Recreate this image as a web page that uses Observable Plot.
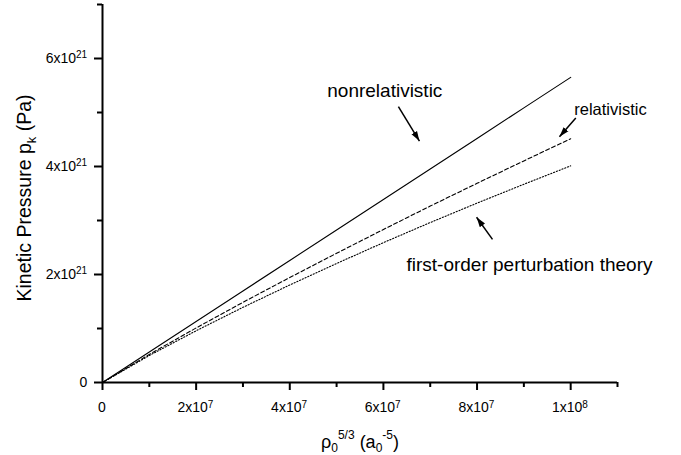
<!DOCTYPE html>
<html><head><meta charset="utf-8">
<script src="https://cdn.jsdelivr.net/npm/d3@7"></script>
<script src="https://cdn.jsdelivr.net/npm/@observablehq/plot@0.6"></script>
<style>
body{margin:0;background:#fff}
svg{font-family:"Liberation Sans",Arial,Helvetica,sans-serif}
</style>
</head><body><div id="chart"></div>
<script>
// ---- data ----
const xValues = [0, 1e7, 2e7, 3e7, 4e7, 5e7, 6e7, 7e7, 8e7, 9e7, 1e8];
const nonrelativistic = [0, 0.565e21, 1.13e21, 1.695e21, 2.26e21, 2.825e21, 3.39e21, 3.955e21, 4.52e21, 5.085e21, 5.65e21];
const relativistic = [0, 0.520e21, 1.010e21, 1.485e21, 1.944e21, 2.393e21, 2.834e21, 3.267e21, 3.688e21, 4.104e21, 4.514e21];
const firstOrder = [0, 0.500e21, 0.958e21, 1.392e21, 1.806e21, 2.204e21, 2.590e21, 2.962e21, 3.322e21, 3.671e21, 4.012e21];

const xMajorTicks = [0, 2e7, 4e7, 6e7, 8e7, 1e8];
const xMajorLabels = ["0", "2x10^7", "4x10^7", "6x10^7", "8x10^7", "1x10^8"];
const xMinorTicks = [1e7, 3e7, 5e7, 7e7, 9e7, 1.1e8];
const yMajorTicks = [0, 2e21, 4e21, 6e21];
const yMajorLabels = ["0", "2x10^21", "4x10^21", "6x10^21"];
const yMinorTicks = [1e21, 3e21, 5e21, 7e21];

const annotationLabels = ["nonrelativistic", "relativistic", "first-order perturbation theory"];
const annotationX = [6.03e7, 1.085e8, 9.12e7];
const annotationY = [5.40e21, 5.06e21, 2.18e21];
const annotationSize = [19, 16.5, 19];
const arrowX1 = [6.32e7, 1.011e8, 8.33e7];
const arrowY1 = [5.11e21, 4.90e21, 2.65e21];
const arrowX2 = [6.77e7, 9.76e7, 7.99e7];
const arrowY2 = [4.47e21, 4.55e21, 3.06e21];

// ---- tables ----
const series = [
  {name: "nonrelativistic", values: nonrelativistic, dash: null},
  {name: "relativistic", values: relativistic, dash: "4,2.5"},
  {name: "first-order", values: firstOrder, dash: "1.2,1.8"}
];
const annotations = annotationLabels.map((t, i) => ({t, x: annotationX[i], y: annotationY[i], s: annotationSize[i]}));
const arrows = arrowX1.map((x1, i) => ({x1, y1: arrowY1[i], x2: arrowX2[i], y2: arrowY2[i]}));

const lineMarks = series.map(s =>
  Plot.line(xValues.map((x, i) => ({x, y: s.values[i]})), {
    x: "x", y: "y", stroke: "black", strokeWidth: 1.1,
    strokeDasharray: s.dash
  })
);

// filled triangular arrow head marker
function filledHead(color) {
  const m = d3.create("svg:marker")
    .attr("viewBox", "-10 -5 10 10")
    .attr("markerWidth", 10).attr("markerHeight", 10)
    .attr("markerUnits", "userSpaceOnUse")
    .attr("orient", "auto")
    .attr("fill", color).attr("stroke", "none");
  m.append("path").attr("d", "M-10,-3.2L0,0L-10,3.2Z");
  return m.node();
}

const chart = Plot.plot({
  width: 681, height: 455,
  marginLeft: 102, marginRight: 64, marginTop: 4, marginBottom: 73,
  style: {fontFamily: '"Liberation Sans", Arial, sans-serif', fontSize: "14px", background: "white"},
  x: {domain: [0, 1.1e8]},
  y: {domain: [0, 7e21]},
  marks: [
    ...lineMarks,
    Plot.ruleY([0], {strokeWidth: 2}),
    Plot.ruleX([0], {strokeWidth: 2}),
    Plot.axisX(xMajorTicks, {tickSize: 8, tickPadding: 12, strokeWidth: 2, fontSize: 14,
      tickFormat: d => xMajorLabels[xMajorTicks.indexOf(d)], label: null}),
    Plot.axisX(xMinorTicks, {tickSize: 5, strokeWidth: 2, tickFormat: () => "", label: null}),
    Plot.axisY(yMajorTicks, {tickSize: 8, tickPadding: 5, strokeWidth: 2, fontSize: 14,
      tickFormat: d => yMajorLabels[yMajorTicks.indexOf(d)], label: null}),
    Plot.axisY(yMinorTicks, {tickSize: 5, strokeWidth: 2, tickFormat: () => "", label: null}),
    Plot.text(annotations, {x: "x", y: "y", text: "t", fontSize: d => d.s, fill: "black", textAnchor: "middle"}),
    Plot.link(arrows, {x1: "x1", y1: "y1", x2: "x2", y2: "y2", stroke: "black", strokeWidth: 1.5, markerEnd: filledHead})
  ]
});

// superscripts in tick labels
d3.select(chart).selectAll("text").each(function() {
  const el = this;
  if (el.childElementCount === 0 && el.textContent.includes("^")) {
    const [base, sup] = el.textContent.split("^");
    el.textContent = base;
    const ts = document.createElementNS("http://www.w3.org/2000/svg", "tspan");
    ts.setAttribute("dy", "-0.45em");
    ts.setAttribute("font-size", "10px");
    ts.textContent = sup;
    el.appendChild(ts);
  }
});

const svg = d3.select(chart);
// y axis title
const yt = svg.append("text")
  .attr("transform", "translate(31,198) rotate(-90)")
  .attr("text-anchor", "middle").attr("font-size", 19.5).attr("fill", "black");
yt.append("tspan").text("Kinetic Pressure p");
yt.append("tspan").attr("dy", 5).attr("font-size", 13).text("k");
yt.append("tspan").attr("dy", -5).text(" (Pa)");

// x axis title
const xt = svg.append("text")
  .attr("x", 360).attr("y", 448)
  .attr("text-anchor", "middle").attr("font-size", 18).attr("fill", "black");
xt.append("tspan").text("ρ");
xt.append("tspan").attr("dy", 4).attr("font-size", 12).text("0");
xt.append("tspan").attr("dy", -13).attr("font-size", 12).text("5/3");
xt.append("tspan").attr("dy", 9).text(" (a");
xt.append("tspan").attr("dy", 4).attr("font-size", 12).text("0");
xt.append("tspan").attr("dy", -13).attr("font-size", 12).text("-5");
xt.append("tspan").attr("dy", 9).text(")");

document.getElementById("chart").appendChild(chart);

// align tick labels precisely
const svgRect = chart.getBoundingClientRect();
const xs = d3.scaleLinear().domain([0, 1.1e8]).range([102, 617]);
svg.selectAll('g[aria-label="y-axis tick label"] text').each(function() {
  if (!this.textContent) return;
  const r = this.getBoundingClientRect();
  const right = r.right - svgRect.left;
  this.setAttribute("dx", (87.5 - right).toFixed(1));
});
svg.selectAll('g[aria-label="x-axis tick label"] text').each(function() {
  if (!this.textContent) return;
  const r = this.getBoundingClientRect();
  const cx = (r.left + r.right) / 2 - svgRect.left;
  const idx = xMajorLabels.map(s => s.replace("^", "")).indexOf(this.textContent);
  if (idx >= 0) this.setAttribute("dx", (xs(xMajorTicks[idx]) - cx).toFixed(1));
});
</script>
</body></html>
